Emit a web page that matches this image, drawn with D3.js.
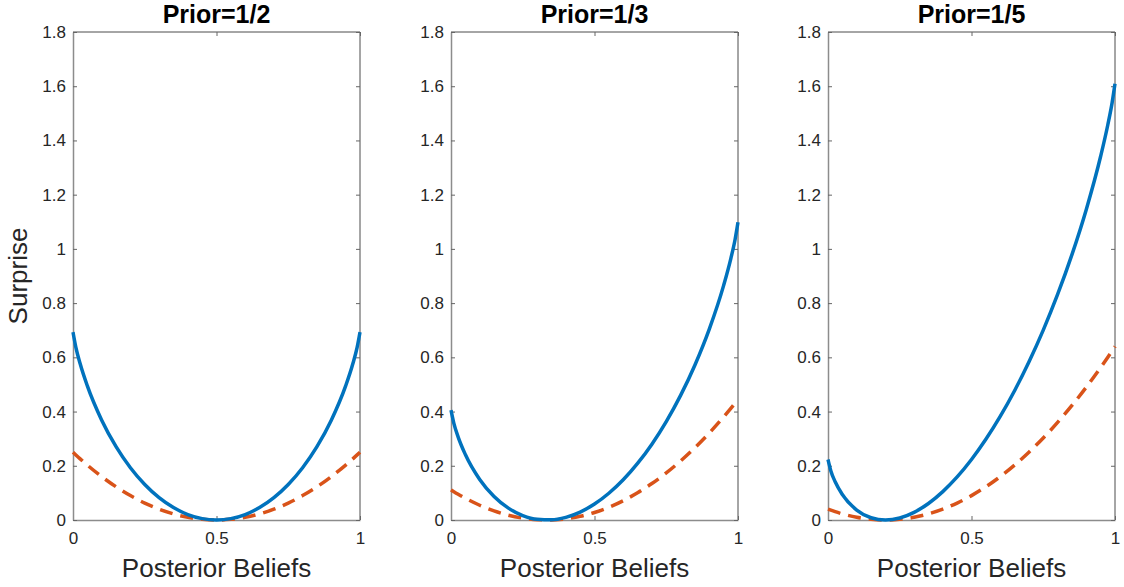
<!DOCTYPE html>
<html>
<head>
<meta charset="utf-8">
<script src="https://cdn.jsdelivr.net/npm/d3@7/dist/d3.min.js"></script>
<style>
  html, body { margin: 0; padding: 0; background: #fff; }
  svg { display: block; }
  text { font-family: "Liberation Sans", Arial, Helvetica, sans-serif; }
</style>
</head>
<body>
<script>
// Posterior belief grid shared by every panel
const posterior = [0, 0.01, 0.025, 0.05, 0.1, 0.15, 0.2, 0.25, 0.3, 0.35, 0.4, 0.45, 0.5,
                   0.55, 0.6, 0.65, 0.7, 0.75, 0.8, 0.85, 0.9, 0.95, 0.975, 0.99, 1];

const panelTitles = ["Prior=1/2", "Prior=1/3", "Prior=1/5"];

// Solid series (relative-entropy surprise) per prior
const surpriseHalf = [0.6931, 0.6371, 0.5762, 0.4946, 0.3681, 0.2704, 0.1927, 0.1308, 0.0823, 0.0457, 0.0201, 0.0050, 0,
                      0.0050, 0.0201, 0.0457, 0.0823, 0.1308, 0.1927, 0.2704, 0.3681, 0.4946, 0.5762, 0.6371, 0.6931];
const surpriseThird = [0.4055, 0.3564, 0.3059, 0.2416, 0.1497, 0.0867, 0.0437, 0.0164, 0.0025, 0.0006, 0.0097, 0.0292, 0.0589,
                       0.0986, 0.1483, 0.2086, 0.2798, 0.3630, 0.4596, 0.5719, 0.7042, 0.8654, 0.9644, 1.0357, 1.0986];
const surpriseFifth = [0.2231, 0.1810, 0.1409, 0.0939, 0.0367, 0.0084, 0.0000, 0.0074, 0.0282, 0.0609, 0.1047, 0.1588, 0.2231,
                       0.2975, 0.3819, 0.4768, 0.5827, 0.7005, 0.8318, 0.9788, 1.1457, 1.3416, 1.4579, 1.5396, 1.6094];

// Dashed series (squared-distance surprise) per prior
const squaredHalf = [0.25, 0.2401, 0.2256, 0.2025, 0.16, 0.1225, 0.09, 0.0625, 0.04, 0.0225, 0.01, 0.0025, 0,
                     0.0025, 0.01, 0.0225, 0.04, 0.0625, 0.09, 0.1225, 0.16, 0.2025, 0.2256, 0.2401, 0.25];
const squaredThird = [0.1111, 0.1045, 0.0951, 0.0803, 0.0544, 0.0336, 0.0178, 0.0069, 0.0011, 0.0003, 0.0044, 0.0136, 0.0278,
                      0.0469, 0.0711, 0.1003, 0.1344, 0.1736, 0.2178, 0.2669, 0.3211, 0.3803, 0.4117, 0.4312, 0.4444];
const squaredFifth = [0.04, 0.0361, 0.0306, 0.0225, 0.01, 0.0025, 0, 0.0025, 0.01, 0.0225, 0.04, 0.0625, 0.09,
                      0.1225, 0.16, 0.2025, 0.25, 0.3025, 0.36, 0.4225, 0.49, 0.5625, 0.6006, 0.6241, 0.64];

const xTicks = [0, 0.5, 1];
const xTickLabels = ["0", "0.5", "1"];
const yTicks = [0, 0.2, 0.4, 0.6, 0.8, 1, 1.2, 1.4, 1.6, 1.8];
const yTickLabels = ["0", "0.2", "0.4", "0.6", "0.8", "1", "1.2", "1.4", "1.6", "1.8"];

const solidSeries = [surpriseHalf, surpriseThird, surpriseFifth];
const dashedSeries = [squaredHalf, squaredThird, squaredFifth];

const W = 1124, H = 587;
const panelLeft = [73, 451, 828];
const panelWidth = 287;
const plotTop = 32, plotBottom = 520;

const svg = d3.select("body").append("svg").attr("width", W).attr("height", H);

const y = d3.scaleLinear().domain([0, 1.8]).range([plotBottom, plotTop]);

panelTitles.forEach((title, i) => {
  const x = d3.scaleLinear().domain([0, 1]).range([panelLeft[i], panelLeft[i] + panelWidth]);
  const g = svg.append("g");

  // box: top and right edges
  g.append("line").attr("x1", x(0)).attr("x2", x(1)).attr("y1", plotTop).attr("y2", plotTop)
    .attr("stroke", "#4d4d4d").attr("stroke-width", 1);
  g.append("line").attr("x1", x(1)).attr("x2", x(1)).attr("y1", plotTop).attr("y2", plotBottom)
    .attr("stroke", "#4d4d4d").attr("stroke-width", 1);

  // bottom axis with inward ticks
  const xAxis = d3.axisBottom(x).tickValues(xTicks).tickSizeInner(-4).tickSizeOuter(0)
    .tickFormat((d, k) => xTickLabels[k]).tickPadding(12);
  const gx = g.append("g").attr("transform", `translate(0,${plotBottom})`).call(xAxis);
  gx.select(".domain").attr("stroke", "#8c8c8c").attr("stroke-width", 1.5);
  gx.selectAll(".tick line").attr("stroke", "#666");
  gx.selectAll("text").attr("font-size", 17).attr("fill", "#262626")
    .attr("font-family", "'Liberation Sans', Arial, sans-serif");

  // top mirrored ticks
  const xTop = d3.axisTop(x).tickValues(xTicks).tickSizeInner(-4).tickSizeOuter(0).tickFormat("");
  const gxt = g.append("g").attr("transform", `translate(0,${plotTop})`).call(xTop);
  gxt.select(".domain").remove();
  gxt.selectAll(".tick line").attr("stroke", "#666");

  // left axis with inward ticks
  const yAxis = d3.axisLeft(y).tickValues(yTicks).tickSizeInner(-4).tickSizeOuter(0)
    .tickFormat((d, k) => yTickLabels[k]).tickPadding(7);
  const gy = g.append("g").attr("transform", `translate(${x(0)},0)`).call(yAxis);
  gy.select(".domain").attr("stroke", "#8c8c8c").attr("stroke-width", 1.5);
  gy.selectAll(".tick line").attr("stroke", "#666");
  gy.selectAll("text").attr("font-size", 17).attr("fill", "#262626")
    .attr("font-family", "'Liberation Sans', Arial, sans-serif");

  // right mirrored ticks
  const yRight = d3.axisRight(y).tickValues(yTicks).tickSizeInner(-4).tickSizeOuter(0).tickFormat("");
  const gyr = g.append("g").attr("transform", `translate(${x(1)},0)`).call(yRight);
  gyr.select(".domain").remove();
  gyr.selectAll(".tick line").attr("stroke", "#666");

  const clipId = "clip" + i;
  svg.append("clipPath").attr("id", clipId).append("rect")
    .attr("x", x(0) - 2).attr("y", plotTop).attr("width", panelWidth + 4).attr("height", plotBottom - plotTop + 2);

  const line = d3.line().x((d, k) => x(posterior[k])).y(d => y(d)).curve(d3.curveMonotoneX);

  g.append("path").datum(dashedSeries[i]).attr("d", line)
    .attr("fill", "none").attr("stroke", "#D95319").attr("stroke-width", 3.5)
    .attr("stroke-dasharray", "13,8").attr("clip-path", `url(#${clipId})`);

  g.append("path").datum(solidSeries[i]).attr("d", line)
    .attr("fill", "none").attr("stroke", "#0072BD").attr("stroke-width", 3.5)
    .attr("clip-path", `url(#${clipId})`);

  // panel title
  g.append("text").attr("x", x(0.5)).attr("y", 23).attr("text-anchor", "middle")
    .attr("font-size", 25).attr("font-weight", "bold").attr("fill", "#000").text(title);

  // x label
  g.append("text").attr("x", x(0.5)).attr("y", 577).attr("text-anchor", "middle")
    .attr("font-size", 26).attr("fill", "#262626").text("Posterior Beliefs");
});

// y label
svg.append("text").attr("transform", `translate(27,${(plotTop + plotBottom) / 2}) rotate(-90)`)
  .attr("text-anchor", "middle").attr("font-size", 26).attr("fill", "#262626").text("Surprise");
</script>
</body>
</html>
